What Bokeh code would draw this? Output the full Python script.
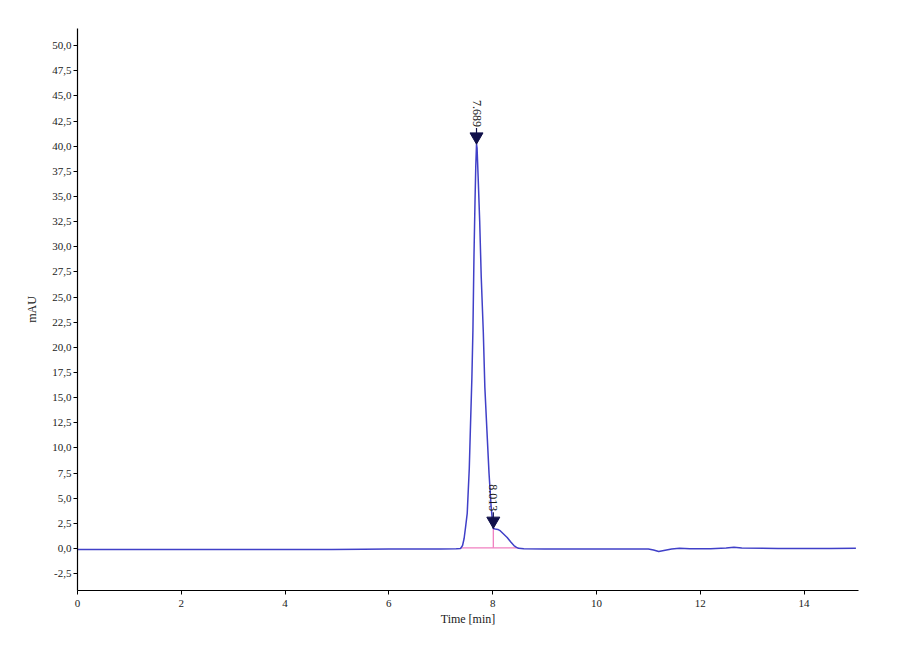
import math
from bokeh.plotting import figure
from bokeh.models import Range1d, FixedTicker
from bokeh.core.properties import value
from bokeh.embed import file_html
from bokeh.resources import INLINE

# ---- data ----
time_min = [0.0, 1.0, 2.0, 3.0, 4.0, 4.5, 4.7, 4.9, 5.5, 6.0, 6.5, 7.0, 7.3,
            7.38, 7.42, 7.45, 7.48, 7.51, 7.55, 7.57, 7.60, 7.62, 7.64, 7.66,
            7.675, 7.689, 7.70, 7.72, 7.75, 7.78, 7.82, 7.85, 7.89, 7.93, 7.97,
            8.00, 8.013, 8.05, 8.10, 8.15, 8.20, 8.28, 8.35, 8.41, 8.46, 8.50,
            8.6, 9.0, 10.0, 11.0, 11.1, 11.2, 11.3, 11.45, 11.6, 11.8, 12.2,
            12.5, 12.65, 12.8, 13.5, 14.5, 15.0]
absorbance_mau = [-0.1, -0.1, -0.1, -0.1, -0.1, -0.1, -0.1, -0.1, -0.06, -0.05, -0.05, -0.05, -0.03,
                  0.0, 0.3, 1.0, 2.2, 3.5, 8.0, 11.7, 17.0, 21.7, 29.0, 34.5,
                  38.0, 40.2, 39.8, 37.0, 32.6, 27.0, 21.5, 16.0, 11.7, 7.5, 4.2,
                  2.5, 2.0, 1.95, 1.9, 1.75, 1.5, 1.1, 0.65, 0.3, 0.12, 0.02,
                  -0.03, -0.05, -0.05, -0.05, -0.15, -0.3, -0.2, -0.05, 0.03, -0.02, -0.02,
                  0.05, 0.12, 0.05, 0.0, 0.0, 0.03]

peak_times = [7.689, 8.013]
peak_heights = [40.2, 2.0]
peak_labels = ["7.689", "8.013"]

# integration baseline (start, end) and its level
integ_start = 7.38
integ_end = 8.50
integ_level = 0.07

x_ticks = [0, 2, 4, 6, 8, 10, 12, 14]
y_ticks = [-2.5, 0.0, 2.5, 5.0, 7.5, 10.0, 12.5, 15.0, 17.5, 20.0, 22.5, 25.0,
           27.5, 30.0, 32.5, 35.0, 37.5, 40.0, 42.5, 45.0, 47.5, 50.0]
y_tick_labels = ["-2,5", "0,0", "2,5", "5,0", "7,5", "10,0", "12,5", "15,0",
                 "17,5", "20,0", "22,5", "25,0", "27,5", "30,0", "32,5", "35,0",
                 "37,5", "40,0", "42,5", "45,0", "47,5", "50,0"]

FONT = "Liberation Serif"

p = figure(frame_width=781, frame_height=562,
           min_border_left=77, min_border_right=26,
           min_border_top=28, min_border_bottom=52,
           x_range=Range1d(0, 15.05), y_range=Range1d(-4.17, 51.7),
           output_backend="svg", toolbar_location=None,
           background_fill_color="white", border_fill_color="white")
p.outline_line_color = None
p.grid.visible = False

# axes
for ax in (p.xaxis, p.yaxis):
    ax.axis_line_color = "black"
    ax.axis_line_width = 1.2
    ax.major_tick_line_color = "black"
    ax.major_tick_out = 4
    ax.major_tick_in = 0
    ax.minor_tick_line_color = None
    ax.major_label_text_font = FONT
    ax.major_label_text_font_size = "11px"
    ax.major_label_text_color = "#1a1a1a"
    ax.axis_label_text_font = FONT
    ax.axis_label_text_font_size = "12px"
    ax.axis_label_text_font_style = "normal"
    ax.axis_label_text_color = "#1a1a1a"

p.xaxis.ticker = FixedTicker(ticks=x_ticks)
p.xaxis.axis_label = "Time [min]"
p.xaxis.major_label_standoff = 5
p.xaxis.axis_label_standoff = 2

p.yaxis.ticker = FixedTicker(ticks=y_ticks)
p.yaxis.major_label_overrides = {t: l for t, l in zip(y_ticks, y_tick_labels)}
p.yaxis.axis_label = "mAU"
p.yaxis.major_label_standoff = 2
p.yaxis.axis_label_standoff = 10

# integration baseline (pink) and drop line at second peak
p.line([integ_start, integ_end], [integ_level, integ_level],
       line_color="#f07fc0", line_width=1.3)
p.segment(x0=[peak_times[1]], y0=[integ_level], x1=[peak_times[1]], y1=[peak_heights[1]],
          line_color="#f07fc0", line_width=1.3)

# chromatogram trace
p.line(time_min, absorbance_mau, line_color="#4040c8", line_width=1.5)

# peak markers: stem, arrow head, rotated retention-time label
stem_len = 1.6
p.segment(x0=peak_times, y0=peak_heights,
          x1=peak_times, y1=[h + stem_len for h in peak_heights],
          line_color="#10104a", line_width=1.2)
p.scatter(peak_times, [h + 0.75 for h in peak_heights], marker="inverted_triangle",
          size=13, fill_color="#10104a", line_color="#10104a")
p.text(x=peak_times, y=[h + 1.7 for h in peak_heights], text=peak_labels,
       angle=-math.pi / 2, text_align="right", text_baseline="middle",
       text_font=value(FONT), text_font_size="12px", text_color="#1a1a1a")

open("out.html", "w").write(file_html(p, INLINE))
